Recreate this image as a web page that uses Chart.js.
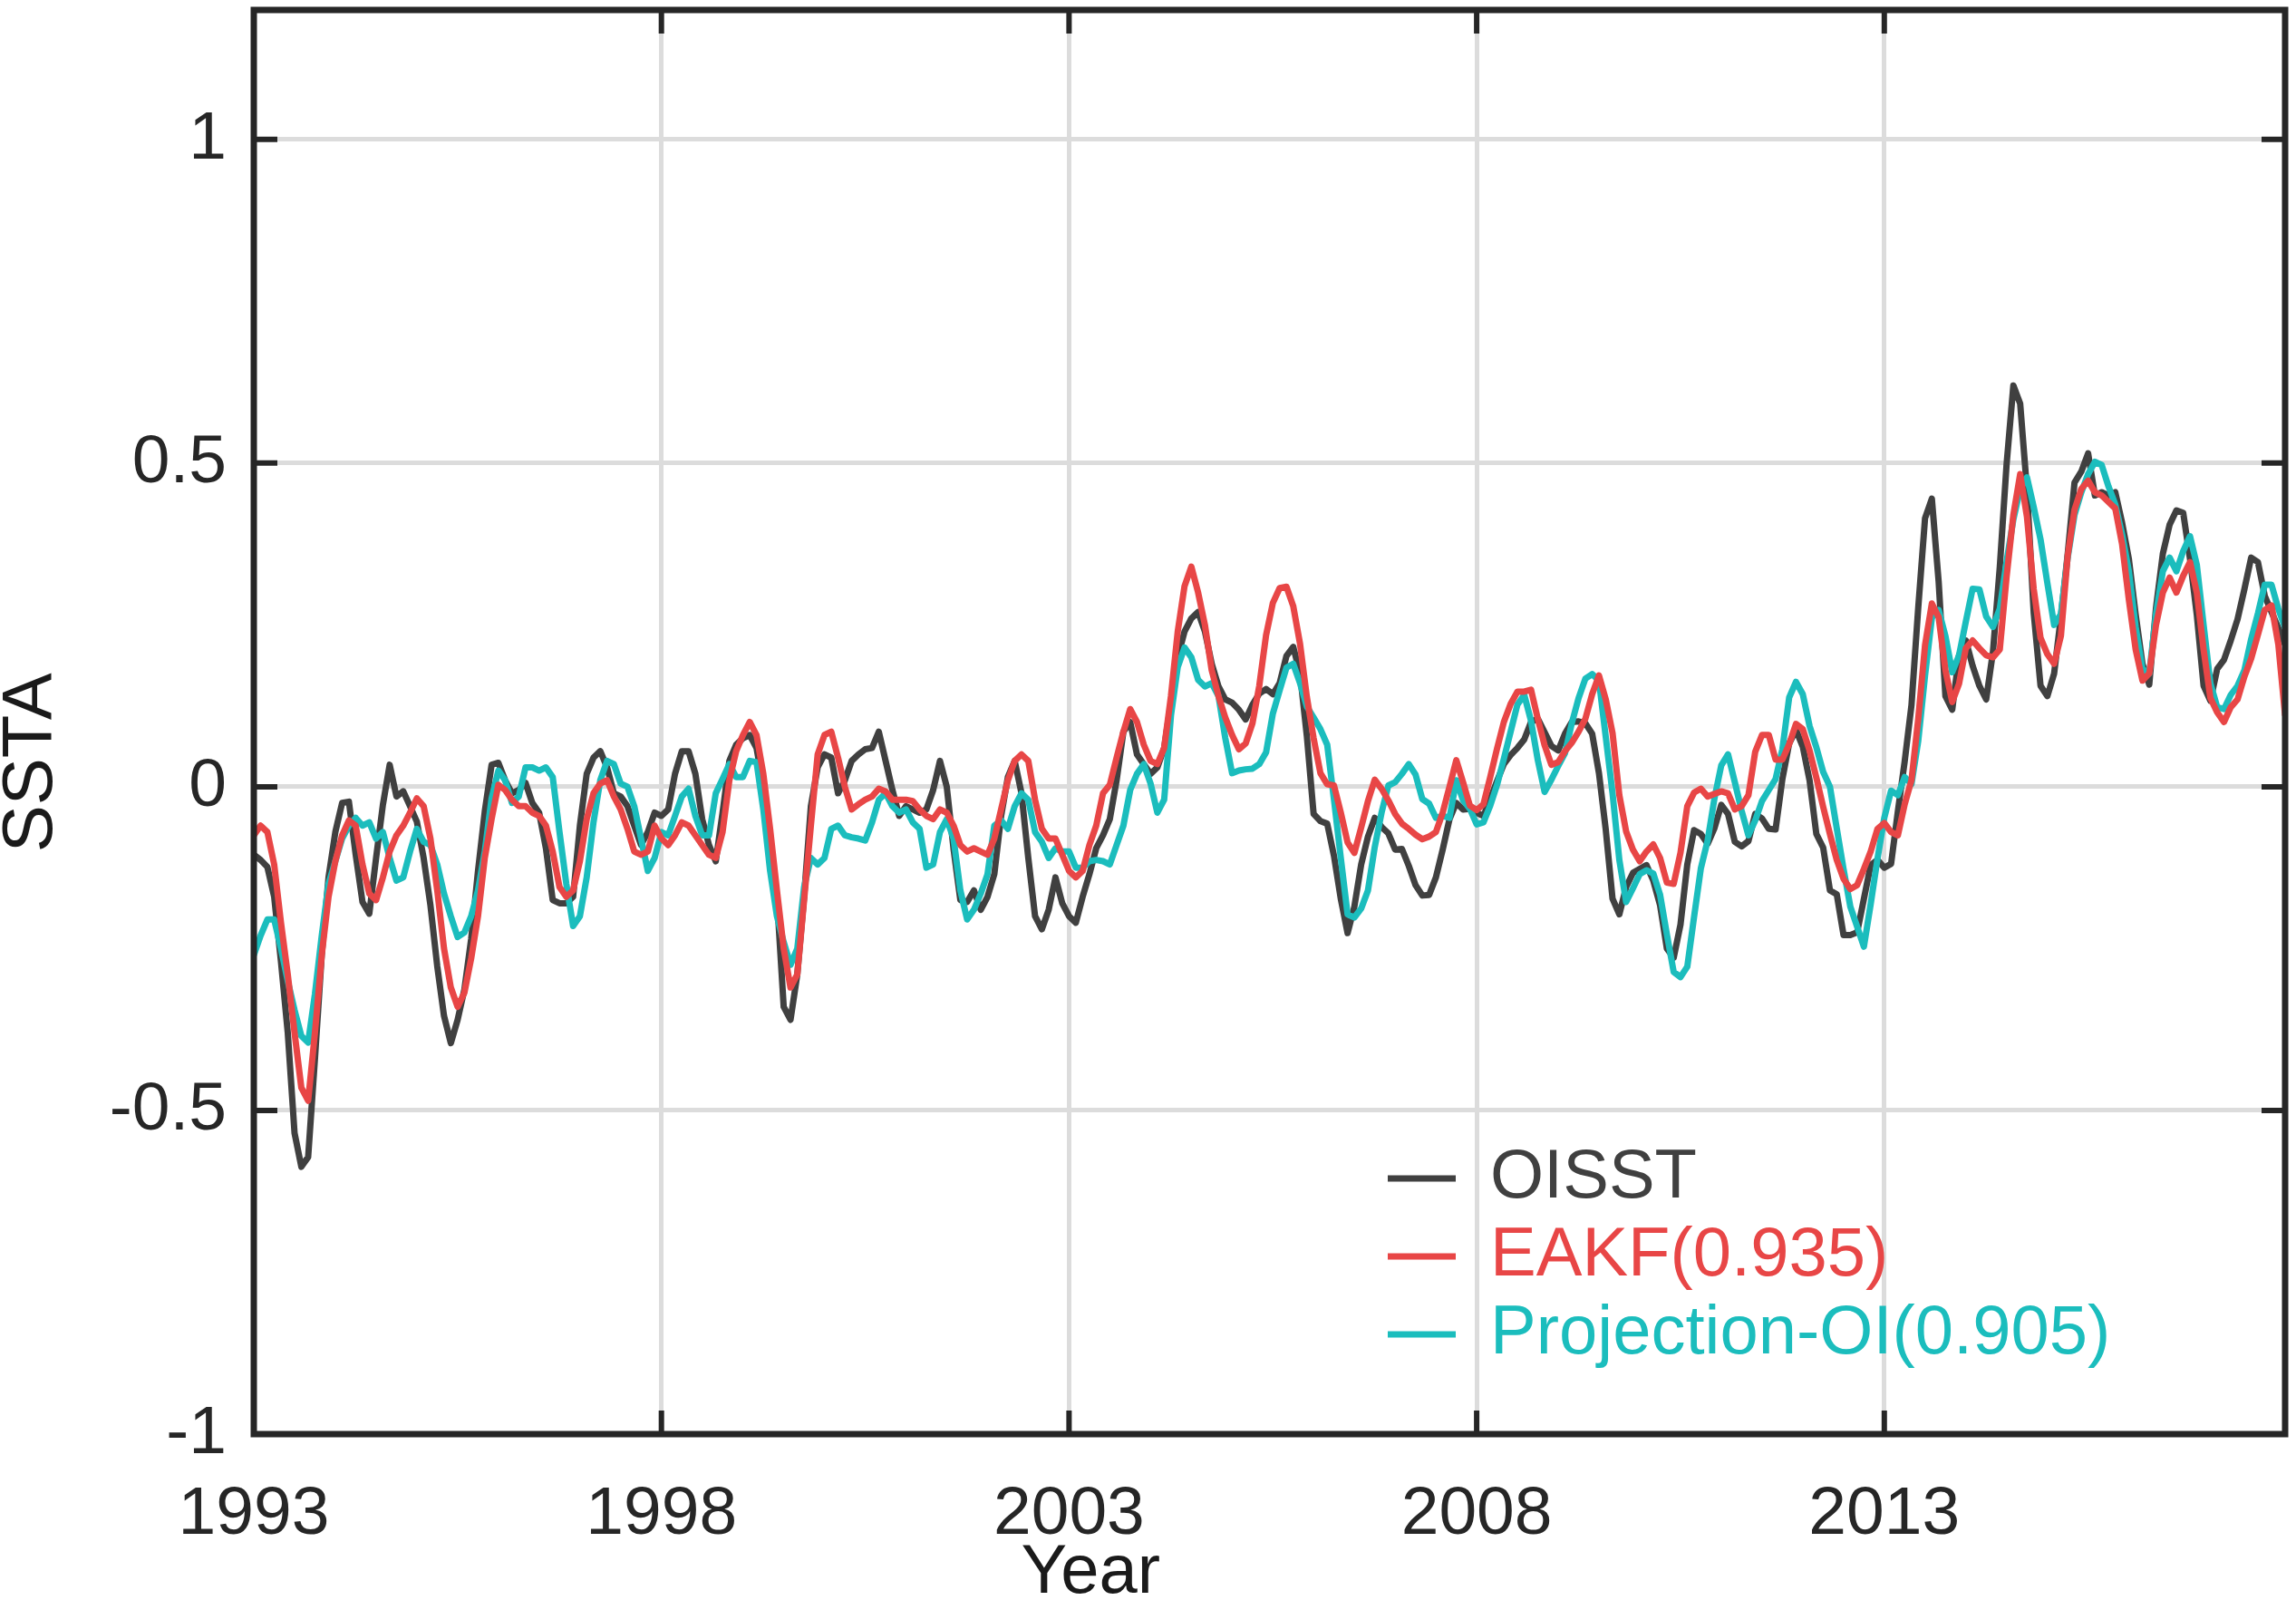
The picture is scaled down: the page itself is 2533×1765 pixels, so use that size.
<!DOCTYPE html>
<html>
<head>
<meta charset="utf-8">
<title>SSTA</title>
<script src="https://cdn.jsdelivr.net/npm/chart.js@4.4.1/dist/chart.umd.min.js"></script>
<style>
    html, body { margin: 0; padding: 0; background: #fff; }
    #wrap { width: 2533px; height: 1765px; }
</style>
</head>
<body>
<div id="wrap"><canvas id="chart" width="2533" height="1765"></canvas></div>
<script>
// monthly series, Jan 1993 - Dec 2017
const startYear = 1993;
const xTickYears = [1993, 1998, 2003, 2008, 2013];
const yTickValues = [-1, -0.5, 0, 0.5, 1];
const seriesNames = ["OISST", "EAKF(0.935)", "Projection-OI(0.905)"];
const seriesColors = ["#404040", "#e84646", "#1bbdbd"];

const oisst = [
    -0.105,-0.113,-0.124,-0.17,-0.27,-0.38,-0.535,-0.587,-0.572,-0.42,
    -0.26,-0.14,-0.07,-0.025,-0.023,-0.105,-0.178,-0.196,-0.11,-0.028,
    0.034,-0.015,-0.007,-0.03,-0.054,-0.11,-0.183,-0.277,-0.354,-0.396,
    -0.36,-0.313,-0.235,-0.13,-0.038,0.034,0.037,0.01,-0.01,-0.005,
    0.006,-0.025,-0.04,-0.095,-0.175,-0.18,-0.18,-0.17,-0.06,0.02,
    0.045,0.055,0.03,-0.01,-0.015,-0.03,-0.06,-0.09,-0.07,-0.04,
    -0.045,-0.035,0.02,0.055,0.055,0.02,-0.05,-0.09,-0.115,-0.04,
    0.04,0.065,0.075,0.08,0.06,0.0,-0.09,-0.17,-0.34,-0.36,
    -0.29,-0.17,-0.03,0.03,0.05,0.045,-0.01,0.01,0.04,0.05,
    0.058,0.06,0.085,0.04,-0.005,-0.045,-0.03,-0.035,-0.04,-0.035,
    -0.005,0.04,0.0,-0.096,-0.175,-0.178,-0.16,-0.19,-0.17,-0.135,
    -0.045,0.015,0.04,-0.01,-0.11,-0.2,-0.22,-0.19,-0.14,-0.18,
    -0.2,-0.21,-0.17,-0.135,-0.095,-0.075,-0.05,0.01,0.085,0.1,
    0.05,0.035,0.02,0.03,0.06,0.13,0.2,0.24,0.26,0.27,
    0.24,0.19,0.155,0.135,0.13,0.119,0.104,0.127,0.144,0.151,
    0.143,0.16,0.202,0.216,0.175,0.079,-0.042,-0.053,-0.057,-0.107,
    -0.173,-0.226,-0.185,-0.12,-0.077,-0.048,-0.062,-0.072,-0.097,-0.096,
    -0.122,-0.152,-0.168,-0.167,-0.14,-0.097,-0.05,-0.025,-0.035,-0.034,
    -0.04,-0.045,-0.019,0.009,0.035,0.049,0.06,0.073,0.1,0.105,
    0.084,0.063,0.056,0.082,0.1,0.101,0.098,0.082,0.021,-0.066,
    -0.173,-0.197,-0.155,-0.133,-0.127,-0.121,-0.145,-0.183,-0.25,-0.264,
    -0.213,-0.12,-0.067,-0.073,-0.088,-0.064,-0.028,-0.042,-0.085,-0.092,
    -0.084,-0.042,-0.049,-0.065,-0.066,0.012,0.067,0.088,0.062,0.01,
    -0.073,-0.094,-0.16,-0.166,-0.229,-0.229,-0.225,-0.173,-0.121,-0.113,
    -0.125,-0.119,-0.038,0.039,0.126,0.277,0.415,0.445,0.317,0.14,
    0.119,0.203,0.226,0.187,0.156,0.135,0.209,0.339,0.498,0.62,
    0.592,0.459,0.268,0.156,0.14,0.175,0.263,0.36,0.47,0.487,
    0.515,0.45,0.455,0.45,0.455,0.408,0.352,0.266,0.19,0.158,
    0.277,0.36,0.405,0.427,0.423,0.352,0.266,0.156,0.133,0.182,
    0.196,0.226,0.259,0.305,0.354,0.347,0.295,0.27,0.245,0.22
];

const eakf = [
    -0.075,-0.06,-0.07,-0.12,-0.21,-0.29,-0.38,-0.465,-0.485,-0.38,
    -0.26,-0.17,-0.115,-0.075,-0.052,-0.06,-0.12,-0.165,-0.175,-0.14,
    -0.1,-0.075,-0.06,-0.04,-0.018,-0.03,-0.08,-0.16,-0.25,-0.31,
    -0.34,-0.318,-0.265,-0.2,-0.11,-0.05,0.003,-0.005,-0.02,-0.03,
    -0.03,-0.04,-0.045,-0.06,-0.1,-0.155,-0.17,-0.16,-0.115,-0.05,
    -0.01,0.005,0.01,-0.015,-0.035,-0.065,-0.1,-0.105,-0.1,-0.06,
    -0.08,-0.09,-0.075,-0.055,-0.06,-0.075,-0.09,-0.105,-0.11,-0.07,
    0.01,0.055,0.08,0.1,0.08,0.02,-0.065,-0.16,-0.25,-0.31,
    -0.29,-0.175,-0.06,0.05,0.08,0.085,0.045,0.0,-0.035,-0.027,
    -0.02,-0.015,-0.003,-0.007,-0.02,-0.02,-0.02,-0.022,-0.035,-0.045,
    -0.05,-0.035,-0.04,-0.06,-0.09,-0.1,-0.095,-0.1,-0.105,-0.08,
    -0.035,0.01,0.04,0.05,0.04,-0.02,-0.065,-0.08,-0.08,-0.105,
    -0.13,-0.14,-0.13,-0.09,-0.06,-0.01,0.003,0.045,0.085,0.12,
    0.1,0.065,0.04,0.035,0.06,0.14,0.24,0.31,0.34,0.3,
    0.25,0.18,0.14,0.107,0.08,0.058,0.067,0.098,0.156,0.234,
    0.284,0.307,0.309,0.279,0.221,0.139,0.075,0.021,0.004,0.002,
    -0.04,-0.086,-0.102,-0.063,-0.022,0.011,-0.003,-0.021,-0.042,-0.057,
    -0.065,-0.074,-0.081,-0.077,-0.07,-0.04,0.0,0.041,0.007,-0.029,
    -0.036,-0.027,0.015,0.059,0.1,0.128,0.147,0.147,0.15,0.105,
    0.064,0.034,0.038,0.055,0.068,0.085,0.105,0.143,0.172,0.135,
    0.083,-0.013,-0.069,-0.097,-0.115,-0.1,-0.089,-0.11,-0.148,-0.15,
    -0.102,-0.03,-0.009,-0.003,-0.015,-0.011,-0.007,-0.01,-0.035,-0.03,
    -0.013,0.054,0.08,0.08,0.042,0.042,0.066,0.097,0.089,0.056,
    0.014,-0.031,-0.073,-0.113,-0.142,-0.158,-0.152,-0.127,-0.1,-0.065,
    -0.056,-0.07,-0.075,-0.027,0.01,0.105,0.219,0.283,0.262,0.18,
    0.131,0.159,0.214,0.226,0.214,0.203,0.2,0.212,0.324,0.42,
    0.483,0.417,0.305,0.23,0.205,0.19,0.233,0.357,0.428,0.46,
    0.473,0.455,0.45,0.44,0.43,0.375,0.289,0.212,0.164,0.175,
    0.25,0.3,0.323,0.3,0.326,0.347,0.3,0.212,0.137,0.115,
    0.1,0.123,0.135,0.17,0.198,0.235,0.273,0.28,0.22,0.11
];

const projOI = [
    -0.26,-0.23,-0.205,-0.205,-0.25,-0.3,-0.345,-0.385,-0.395,-0.32,
    -0.23,-0.15,-0.115,-0.08,-0.06,-0.048,-0.06,-0.055,-0.08,-0.07,
    -0.11,-0.145,-0.14,-0.1,-0.065,-0.085,-0.09,-0.12,-0.165,-0.2,
    -0.232,-0.225,-0.2,-0.16,-0.1,-0.018,0.025,0.01,-0.025,-0.015,
    0.03,0.03,0.025,0.03,0.015,-0.07,-0.15,-0.215,-0.2,-0.14,
    -0.055,0.01,0.04,0.035,0.005,0.0,-0.03,-0.08,-0.13,-0.11,
    -0.07,-0.075,-0.045,-0.015,-0.003,-0.045,-0.075,-0.075,-0.01,0.012,
    0.035,0.015,0.015,0.04,0.038,-0.035,-0.13,-0.2,-0.24,-0.275,
    -0.25,-0.155,-0.11,-0.12,-0.11,-0.065,-0.06,-0.075,-0.078,-0.08,
    -0.083,-0.055,-0.02,-0.01,-0.03,-0.04,-0.035,-0.055,-0.065,-0.125,
    -0.12,-0.07,-0.05,-0.08,-0.16,-0.205,-0.19,-0.165,-0.135,-0.06,
    -0.052,-0.065,-0.03,-0.01,-0.02,-0.07,-0.085,-0.11,-0.095,-0.1,
    -0.1,-0.125,-0.125,-0.115,-0.113,-0.115,-0.12,-0.09,-0.06,-0.005,
    0.02,0.035,0.005,-0.04,-0.02,0.11,0.185,0.215,0.2,0.165,
    0.155,0.16,0.14,0.075,0.021,0.025,0.027,0.028,0.035,0.053,
    0.113,0.149,0.184,0.19,0.16,0.124,0.107,0.089,0.065,-0.02,
    -0.11,-0.197,-0.202,-0.188,-0.16,-0.093,-0.04,0.002,0.007,0.02,
    0.035,0.019,-0.019,-0.026,-0.048,-0.045,-0.048,0.01,-0.021,-0.034,
    -0.058,-0.055,-0.029,0.003,0.043,0.085,0.127,0.142,0.102,0.041,
    -0.008,0.011,0.032,0.052,0.098,0.137,0.167,0.174,0.164,0.077,
    -0.01,-0.113,-0.178,-0.157,-0.135,-0.129,-0.134,-0.167,-0.228,-0.286,
    -0.294,-0.278,-0.201,-0.126,-0.083,-0.018,0.033,0.05,0.007,-0.037,
    -0.075,-0.052,-0.022,-0.005,0.012,0.058,0.138,0.162,0.143,0.094,
    0.061,0.023,0.0,-0.064,-0.127,-0.185,-0.216,-0.247,-0.181,-0.111,
    -0.048,-0.006,-0.013,0.015,0.004,0.071,0.172,0.261,0.273,0.233,
    0.177,0.203,0.255,0.306,0.305,0.263,0.247,0.275,0.348,0.413,
    0.46,0.478,0.432,0.382,0.315,0.25,0.267,0.354,0.42,0.455,
    0.483,0.502,0.497,0.464,0.436,0.39,0.333,0.247,0.182,0.175,
    0.267,0.333,0.354,0.333,0.364,0.387,0.343,0.25,0.16,0.123,
    0.12,0.142,0.156,0.18,0.228,0.268,0.312,0.312,0.275,0.245
];

const fontFamily = '"Liberation Sans", Arial, Helvetica, sans-serif';
const axisInk = "#262626";
const labelInk = "#1a1a1a";

// decimal year of each monthly sample
const months = oisst.map((_, i) => startYear + i / 12);
const toPoints = values => values.map((v, i) => ({ x: months[i], y: v }));

Chart.defaults.font.family = fontFamily;

// MATLAB-style box with inward ticks on all four sides, plus the axis labels
const framePlugin = {
    id: "frame",
    afterLayout(chart) {
        // put the legend inside the plot, lower right
        const lg = chart.legend;
        const a = chart.chartArea;
        if (!lg) return;
        lg.left = a.left + 1241;
        lg.top = a.top + 1241;
        lg.right = chart.width;
        lg.bottom = chart.height;
        lg.width = lg.right - lg.left;
        lg.height = lg.bottom - lg.top;
    },
    afterDraw(chart) {
        const { ctx, chartArea: a, scales: { x, y } } = chart;
        const len = 26;
        ctx.save();
        ctx.strokeStyle = axisInk;
        ctx.lineWidth = 6;
        ctx.beginPath();
        xTickYears.forEach(v => {
            const px = x.getPixelForValue(v);
            ctx.moveTo(px, a.bottom); ctx.lineTo(px, a.bottom - len);
            ctx.moveTo(px, a.top); ctx.lineTo(px, a.top + len);
        });
        yTickValues.forEach(v => {
            const py = y.getPixelForValue(v);
            ctx.moveTo(a.left, py); ctx.lineTo(a.left + len, py);
            ctx.moveTo(a.right, py); ctx.lineTo(a.right - len, py);
        });
        ctx.stroke();
        ctx.lineWidth = 7;
        ctx.lineJoin = "miter";
        ctx.strokeRect(a.left, a.top, a.right - a.left, a.bottom - a.top);

        ctx.fillStyle = labelInk;
        ctx.font = "76px " + fontFamily;
        ctx.textAlign = "center";
        ctx.textBaseline = "alphabetic";
        ctx.fillText("Year", a.left + 0.412 * (a.right - a.left), chart.height - 8);

        ctx.font = "78px " + fontFamily;
        ctx.textBaseline = "middle";
        ctx.translate(35, a.top + 0.5285 * (a.bottom - a.top));
        ctx.rotate(-Math.PI / 2);
        ctx.fillText("SSTA", 0, 0);
        ctx.restore();
    }
};

const allSeries = [oisst, eakf, projOI];
const drawOrder = [2, 0, 1]; // red on top, then cyan, black underneath

new Chart(document.getElementById("chart"), {
    type: "line",
    data: {
        datasets: allSeries.map((values, k) => ({
            label: seriesNames[k],
            data: toPoints(values),
            borderColor: seriesColors[k],
            backgroundColor: seriesColors[k],
            borderWidth: 7,
            borderJoinStyle: "round",
            pointRadius: 0,
            tension: 0,
            fill: false,
            order: drawOrder[k]
        }))
    },
    options: {
        responsive: false,
        animation: false,
        layout: { autoPadding: false, padding: { top: 11, right: 12, left: 0, bottom: 0 } },
        scales: {
            x: {
                type: "linear",
                min: startYear,
                max: months[months.length - 1],
                afterBuildTicks: s => { s.ticks = xTickYears.map(v => ({ value: v })); },
                afterFit: s => { s.height = 183; s.paddingLeft = 0; s.paddingRight = 0; },
                grid: { color: "#dcdcdc", lineWidth: 5, drawTicks: false },
                border: { display: false },
                ticks: {
                    color: axisInk,
                    font: { size: 75 },
                    padding: 44,
                    maxRotation: 0,
                    callback: v => String(v)
                }
            },
            y: {
                type: "linear",
                min: -1,
                max: 1.2,
                afterBuildTicks: s => { s.ticks = yTickValues.map(v => ({ value: v })); },
                afterFit: s => { s.width = 280; s.paddingTop = 0; s.paddingBottom = 0; },
                grid: { color: "#dcdcdc", lineWidth: 5, drawTicks: false },
                border: { display: false },
                ticks: {
                    color: axisInk,
                    font: { size: 75 },
                    padding: 30,
                    callback: v => String(v)
                }
            }
        },
        plugins: {
            tooltip: { enabled: false },
            legend: {
                position: "chartArea",
                align: "start",
                labels: {
                    font: { size: 76 },
                    usePointStyle: true,
                    pointStyle: "line",
                    pointStyleWidth: 75,
                    padding: 10,
                    sort: (a, b) => a.datasetIndex - b.datasetIndex,
                    generateLabels(chart) {
                        const items = Chart.defaults.plugins.legend.labels.generateLabels(chart);
                        items.forEach(it => {
                            const c = seriesColors[it.datasetIndex];
                            it.fontColor = c;
                            it.strokeStyle = c;
                            it.fillStyle = c;
                            it.lineWidth = 7;
                            it.pointStyle = "line";
                        });
                        return items;
                    }
                }
            }
        }
    },
    plugins: [framePlugin]
});
</script>
</body>
</html>
